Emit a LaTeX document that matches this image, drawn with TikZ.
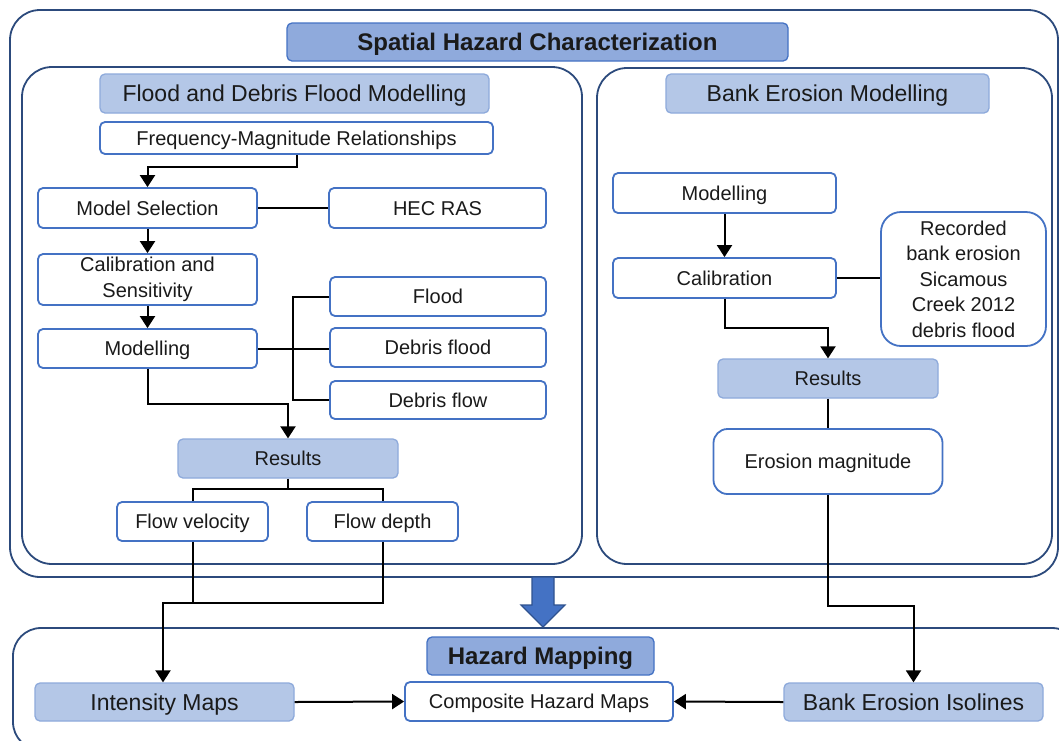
\documentclass[tikz,border=0pt]{standalone}
\usepackage{fontspec}
\setmainfont{Liberation Sans}
\usetikzlibrary{arrows.meta}
\definecolor{navy}{HTML}{2C4A7C}
\definecolor{boxblue}{HTML}{4472C4}
\definecolor{lfill}{HTML}{B4C7E7}
\definecolor{lborder}{HTML}{8EAADB}
\definecolor{hfill}{HTML}{8FAADC}
\definecolor{txt}{HTML}{1A1A1A}
\definecolor{bigarrow}{HTML}{4472C4}
\definecolor{bigarrowborder}{HTML}{2F528F}
\begin{document}
\begin{tikzpicture}[x=1pt,y=-1pt,
  box/.style={draw=boxblue, line width=1.8pt, rounded corners=5pt, fill=white, inner sep=0pt, align=center, text=txt, font=\fontsize{20}{25.5}\selectfont},
  one/.style={text height=14.3pt, text depth=0pt},
  onebig/.style={text height=16.5pt, text depth=0pt},
  lbox/.style={box, draw=lborder, fill=lfill, line width=1.3pt},
  subhead/.style={lbox, onebig, font=\fontsize{23}{27}\selectfont},
  hbox/.style={box, fill=hfill, draw=boxblue, line width=1.3pt, text height=17.2pt, text depth=0pt, font=\bfseries\fontsize{24}{28}\selectfont},
  cont/.style={draw=navy, line width=1.8pt, rounded corners=30pt, inner sep=0pt},
  conn/.style={line width=2pt, black},
  arr/.style={conn, -{Triangle[width=15pt,length=12pt]}},
]
\useasboundingbox (0,0) rectangle (1059,740);
\fill[white] (0,0) rectangle (1059,740);

% containers
\node[cont, minimum width=1048pt, minimum height=567pt] (outer) at (534,293.5) {};
\node[cont, minimum width=560pt, minimum height=497pt] (leftc) at (302,315.5) {};
\node[cont, minimum width=455pt, minimum height=496pt] (rightc) at (824.5,316) {};
\node[cont, rounded corners=28pt, minimum width=1067pt, minimum height=122pt] (lowc) at (546.5,689) {};

% headers
\node[hbox, minimum width=501pt, minimum height=38pt] (title) at (537.5,42) {Spatial Hazard Characterization};
\node[subhead, minimum width=389pt, minimum height=39pt] (lhead) at (294.5,93.5) {Flood and Debris Flood Modelling};
\node[subhead, minimum width=323pt, minimum height=39pt] (rhead) at (827.5,93.5) {Bank Erosion Modelling};
\node[hbox, minimum width=227pt, minimum height=38pt] (hmap) at (540.5,656) {Hazard Mapping};

% left column
\node[box, one, minimum width=393pt, minimum height=32pt] (fmr) at (296.5,138) {Frequency-Magnitude Relationships};
\node[box, one, minimum width=219pt, minimum height=40pt] (modsel) at (147.5,208) {Model Selection};
\node[box, one, minimum width=217pt, minimum height=40pt] (hec) at (437.5,208) {HEC RAS};
\node[box, minimum width=219pt, minimum height=51pt] (calib) at (147.5,279.5) {Calibration and\\Sensitivity};
\node[box, one, minimum width=219pt, minimum height=39pt] (model) at (147.5,348.5) {Modelling};
\node[box, one, minimum width=216pt, minimum height=39pt] (flood) at (438,296.5) {Flood};
\node[box, one, minimum width=216pt, minimum height=39pt] (dflood) at (438,347.5) {Debris flood};
\node[box, one, minimum width=216pt, minimum height=38pt] (dflow) at (438,400) {Debris flow};
\node[lbox, one, minimum width=220pt, minimum height=39pt] (resL) at (288,458.5) {Results};
\node[box, one, minimum width=151pt, minimum height=39pt] (fvel) at (192.5,521.5) {Flow velocity};
\node[box, one, minimum width=151pt, minimum height=39pt] (fdep) at (382.5,521.5) {Flow depth};

% right column
\node[box, one, minimum width=223pt, minimum height=40pt] (rmod) at (724.5,193) {Modelling};
\node[box, one, minimum width=223pt, minimum height=40pt] (rcal) at (724.5,278) {Calibration};
\node[box, rounded corners=20pt, minimum width=165pt, minimum height=134pt] (rec) at (963.5,279) {Recorded\\bank erosion\\Sicamous\\Creek 2012\\debris flood};
\node[lbox, one, minimum width=220pt, minimum height=39pt] (resR) at (828,378.5) {Results};
\node[box, one, rounded corners=14pt, minimum width=229pt, minimum height=65pt] (eros) at (828,461.5) {Erosion magnitude};

% bottom row
\node[lbox, onebig, font=\fontsize{23}{27}\selectfont, minimum width=259pt, minimum height=38pt] (intens) at (164.5,702) {Intensity Maps};
\node[box, one, minimum width=268pt, minimum height=39pt] (comp) at (539,701.5) {Composite Hazard Maps};
\node[lbox, onebig, font=\fontsize{23}{27}\selectfont, minimum width=259pt, minimum height=38pt] (bei) at (913.5,702) {Bank Erosion Isolines};

% turning points
\coordinate (t1) at (0,167);
\coordinate (bus) at (293,0);
\coordinate (t2) at (0,404);
\coordinate (t3) at (0,489);
\coordinate (t4) at (0,603);
\coordinate (t5) at (0,328);
\coordinate (t6) at (0,606);
\coordinate (drop) at (163,603);

% left connectors
\draw[arr] (fmr.south) -- (fmr.south |- t1) -| (modsel.north);
\draw[conn] (modsel.east) -- (hec.west);
\draw[arr] (modsel.south) -- (calib.north);
\draw[arr] (calib.south) -- (model.north);
\draw[conn] (model.east) -- (model.east -| dflood.west);
\draw[conn] (flood.west) -- (flood.west -| bus) -- (dflow.west -| bus) -- (dflow.west);
\draw[arr] (model.south) -- (model.south |- t2) -| (resL.north);
\draw[conn] (resL.south) -- (resL.south |- t3);
\draw[conn] (fvel.north) |- (resL.south |- t3) -| (fdep.north);
\draw[conn] (fvel.south) -- (fvel.south |- t4);
\draw[arr] (fdep.south) -- (fdep.south |- t4) -- (drop) -- (drop |- intens.north);

% right connectors
\draw[arr] (rmod.south) -- (rcal.north);
\draw[conn] (rcal.east) -- (rcal.east -| rec.west);
\draw[arr] (rcal.south) -- (rcal.south |- t5) -| (resR.north);
\draw[conn] (resR.south) -- (eros.north);
\draw[arr] (eros.south) -- (eros.south |- t6) -| (bei.north);

% bottom connectors
\draw[arr] (intens.east) -- (comp.west);
\draw[arr] (bei.west) -- (comp.east);

% big arrow
\draw[fill=bigarrow, draw=bigarrowborder, line width=1.2pt, line join=miter]
  (532,577) -- (554,577) -- (554,605) -- (565,605) -- (543,627) -- (521,605) -- (532,605) -- cycle;
\end{tikzpicture}
\end{document}
